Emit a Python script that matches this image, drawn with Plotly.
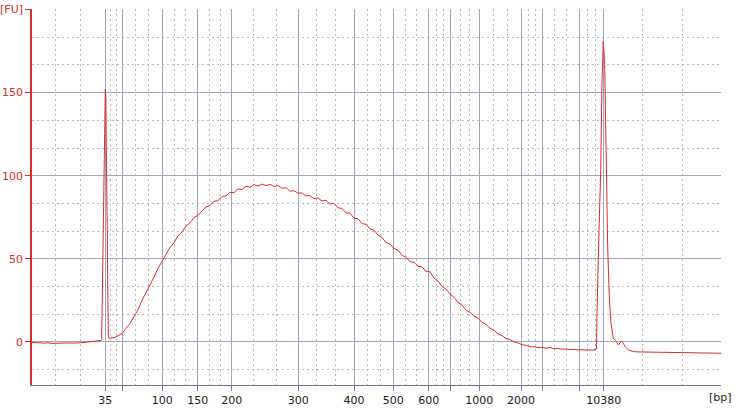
import plotly.graph_objects as go

# ladder peaks: size in bp and migration position (scan index)
ladder_bp = [35, 50, 100, 150, 200, 300, 400, 500, 600, 700, 1000, 2000, 3000, 7000, 10380]
ladder_scan = [73.3, 90.0, 130.3, 165.7, 199.7, 266.3, 322.0, 361.3, 396.7, 418.7,
               447.3, 489.0, 510.0, 547.0, 571.7]
hidden_labels = [50, 700, 3000, 7000]

# extra time gridlines outside the ladder range
pre_grid = [23.7, 48.3]
post_grid = [610.7, 650.3, 688.7]

# baseline + lower marker (35 bp)
lower_scan = [0, 4, 8, 12, 16, 20, 24, 28, 32, 36,
              40, 44, 48, 52, 56, 60, 64, 67, 69, 69.7,
              70.3, 71.0, 71.7, 72.5, 73.3, 73.8, 74.3, 74.8, 75.3, 75.8,
              76.3, 77]
lower_fu = [-0.2, -0.4, -0.6, -0.7, -0.5, -0.9, -0.8, -0.6, -0.8, -0.6,
            -0.7, -0.4, -0.5, -0.3, -0.1, 0.1, 0.4, 0.6, 0.9, 1.5,
            30, 60, 100, 135, 152, 148, 120, 75, 35, 10,
            3, 2.4]

# library smear
smear_scan = list(range(78, 563, 4))
smear_fu = [2.3, 2.5, 3.8, 5.0, 8.2, 11.0, 15.4, 19.3, 25.1, 29.6,
            35.0, 39.0, 44.3, 48.6, 52.2, 56.8, 59.7, 63.9, 66.1, 69.8,
            71.6, 74.9, 76.3, 78.6, 81.2, 82.0, 84.6, 85.0, 87.5, 87.9,
            90.0, 89.9, 92.0, 91.8, 93.7, 93.0, 94.6, 93.8, 95.0, 94.0,
            94.8, 93.5, 94.1, 92.5, 92.8, 90.7, 91.0, 89.5, 89.6, 87.8,
            88.0, 86.3, 86.6, 84.8, 85.2, 82.9, 83.4, 80.7, 80.3, 77.6,
            77.5, 74.5, 74.1, 71.2, 70.8, 68.0, 67.3, 64.2, 62.9, 59.8,
            58.9, 56.3, 55.2, 52.1, 51.0, 48.3, 47.9, 45.6, 45.1, 42.6,
            42.2, 38.4, 36.7, 33.4, 31.8, 28.8, 26.9, 23.7, 22.2, 19.1,
            17.9, 15.5, 14.3, 11.9, 10.5, 8.3, 7.0, 4.9, 3.8, 2.1,
            1.4, 0.0, -0.6, -1.7, -2.0, -2.9, -2.9, -3.4, -3.2, -3.8,
            -3.3, -4.1, -3.9, -4.4, -4.2, -4.6, -4.4, -4.8, -4.6, -4.9,
            -4.7, -4.8]

# upper marker (10380 bp) + tail
upper_scan = [564.5, 565.0, 567.0, 568.7, 570.0, 571.3, 572.7, 574.0, 575.7, 577.3,
              579.0, 581.3, 584.7, 586.3, 588.0, 589.7, 591.3, 593.0, 596.3, 601.3,
              606, 612, 618, 626, 634, 642, 651, 660, 668, 676,
              684, 689]
upper_fu = [-4.2, 17, 67, 103, 157, 181, 167, 111, 57, 27,
            11, 2.2, 0.2, -1.8, -0.5, 0.6, -0.8, -2.8, -4.8, -5.8,
            -6.0, -6.1, -6.2, -6.2, -6.3, -6.3, -6.4, -6.5, -6.6, -6.7,
            -6.8, -6.8]

fu_ticks = [0, 50, 100, 150, 200]
fu_ticktext = ['0', '50', '100', '150', '[FU]']

assert len(smear_scan) == len(smear_fu)

scan = lower_scan + smear_scan + upper_scan
fu = lower_fu + smear_fu + upper_fu

# dashed gridlines: each ladder interval split in thirds
x_minor = list(pre_grid)
for a, b in zip(ladder_scan[:-1], ladder_scan[1:]):
    x_minor += [a + (b - a) / 3, a + 2 * (b - a) / 3]
x_minor += post_grid
y_minor = [k * 50 / 3 for k in range(-1, 13) if k % 3]

ticktext = ['' if bp in hidden_labels else str(bp) for bp in ladder_bp]

RED = '#dc2b2b'
GRID = '#a3a7bd'
DASH = '#bcbcbc'
FONT = 'DejaVu Sans'

fig = go.Figure(go.Scatter(x=scan, y=fu, mode='lines',
                           line=dict(color=RED, width=1)))

fig.update_xaxes(
    range=[0, 689], tickvals=ladder_scan, ticktext=ticktext,
    ticks='outside', ticklen=5, tickcolor='#7e8296',
    showgrid=True, gridcolor=GRID, gridwidth=1,
    showline=True, linecolor='#6e7282', linewidth=1, zeroline=False,
    tickfont=dict(family=FONT, size=11, color='#1a1a1a'),
    minor=dict(tickvals=x_minor, showgrid=True, gridcolor=DASH,
               griddash='2px,3px', ticks=''),
    automargin=False,
)
fig.update_yaxes(
    range=[-25.9, 200.3], tickvals=fu_ticks, ticktext=fu_ticktext,
    ticks='outside', ticklen=5, tickcolor=RED,
    showgrid=True, gridcolor=GRID, gridwidth=1,
    showline=True, linecolor=RED, linewidth=1.5, zeroline=False,
    tickfont=dict(family=FONT, size=11, color=RED),
    minor=dict(tickvals=y_minor, showgrid=True, gridcolor=DASH,
               griddash='2px,3px', ticks=''),
    automargin=False,
)

fig.add_annotation(text='[bp]', xref='paper', yref='paper', x=1.019, y=-0.032,
                   xanchor='right', yanchor='middle', showarrow=False,
                   font=dict(family=FONT, size=11, color='#1a1a1a'))

fig.update_layout(
    width=736, height=409,
    margin=dict(l=32, r=15, t=9, b=24),
    plot_bgcolor='white', paper_bgcolor='white',
    showlegend=False,
)

# drop the default 8px page margin so the figure sits at the window corner
fig.write_html("out.html", config={'displayModeBar': False},
               post_script="document.body.style.margin = '0';")
